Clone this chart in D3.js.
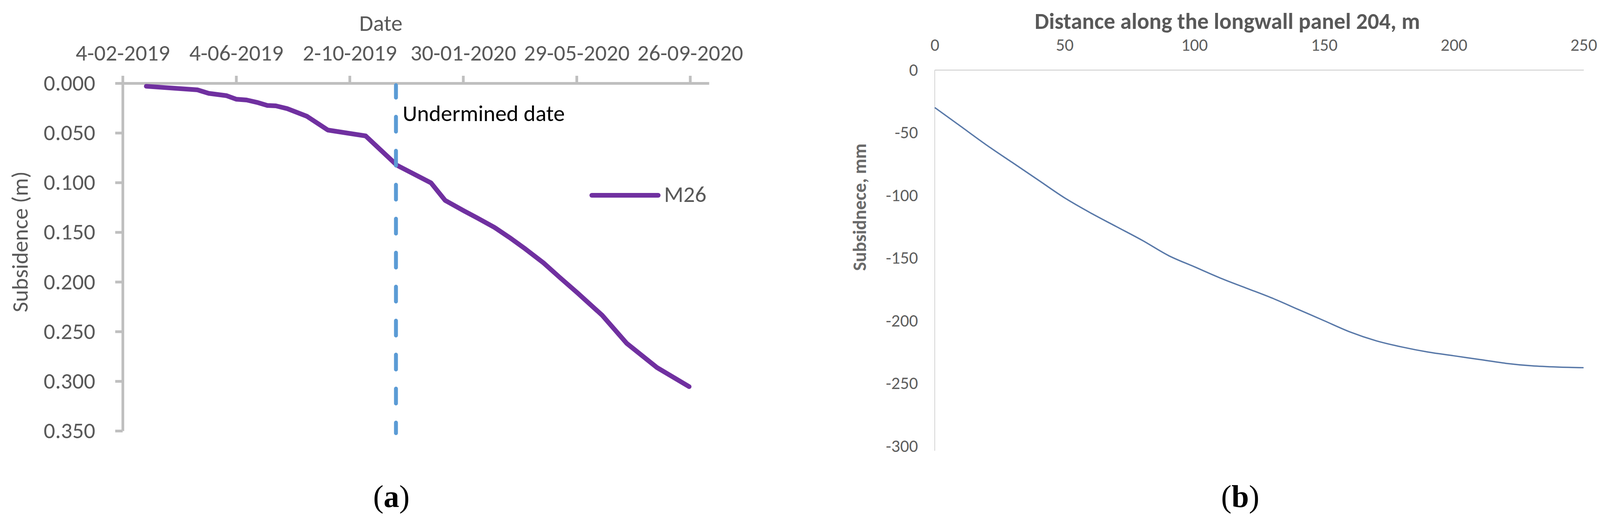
<!DOCTYPE html>
<html lang="en">
<head>
<meta charset="UTF-8">
<title>Subsidence</title>
<style>
  html, body { margin: 0; padding: 0; background: #fff; overflow: hidden; }
  svg { display: block; }
</style>
</head>
<body>
<script src="https://cdn.jsdelivr.net/npm/d3@7/dist/d3.min.js"></script>
<script>
// ---- panel (a): M26 subsidence over time ----
var dateTicks = ["4-02-2019", "4-06-2019", "2-10-2019", "30-01-2020", "29-05-2020", "26-09-2020"];
var subsTicks = [0, 0.05, 0.10, 0.15, 0.20, 0.25, 0.30, 0.35];
var m26Dates = ["1-03-2019", "24-04-2019", "6-05-2019", "25-05-2019", "4-06-2019", "15-06-2019",
  "26-06-2019", "7-07-2019", "16-07-2019", "28-07-2019", "18-08-2019", "9-09-2019", "19-10-2019",
  "21-11-2019", "27-12-2019", "11-01-2020", "31-01-2020", "14-02-2020", "3-03-2020", "19-03-2020",
  "5-04-2020", "24-04-2020", "11-05-2020", "30-05-2020", "25-06-2020", "21-07-2020", "22-08-2020",
  "25-09-2020"];
var m26Values = [0.0031, 0.0067, 0.0102, 0.0126, 0.0161, 0.0169, 0.0193, 0.0224, 0.0228, 0.0256,
  0.0334, 0.0472, 0.0531, 0.0826, 0.1003, 0.1180, 0.1286, 0.1357, 0.1451, 0.1553, 0.1670, 0.1809,
  0.1954, 0.2112, 0.2336, 0.2619, 0.2863, 0.3055];
var underminedDate = "20-11-2019";
var axisEndDate = "16-10-2020";

// ---- panel (b): subsidence along longwall panel 204 ----
var distTicks = [0, 50, 100, 150, 200, 250];
var mmTicks = [0, -50, -100, -150, -200, -250, -300];
var distance = [0, 10, 20, 30, 40, 50, 60, 70, 80, 90, 100, 110, 120, 130, 140, 150, 160, 170,
  180, 190, 200, 210, 220, 230, 240, 250];
var subsidence = [-30, -45, -60, -74, -88, -102, -114, -125, -136, -148, -157, -166, -174, -182,
  -191, -200, -209, -216, -221, -225, -228, -231, -234, -236, -237, -237.5];

var W = 4149, H = 1339;
var sans = "Carlito, Calibri, 'Liberation Sans', Arial, sans-serif";
var grey = "#595959";
var parse = d3.utcParse("%d-%m-%Y");

var svg = d3.select("body").append("svg")
  .attr("width", W).attr("height", H)
  .attr("viewBox", [0, 0, W, H]);
svg.append("rect").attr("width", W).attr("height", H).attr("fill", "#fff");

// ===== (a) =====
var xa = d3.scaleUtc()
  .domain([parse(dateTicks[0]), parse(axisEndDate)])
  .range([314, 1815]);
var ya = d3.scaleLinear().domain([0, 0.35]).range([213, 1103]);

var ga = svg.append("g");

var axTop = ga.append("g")
  .attr("transform", "translate(0," + ya(0) + ")")
  .call(d3.axisTop(xa)
    .tickValues(dateTicks.map(parse))
    .tickFormat(d3.utcFormat("%-d-%m-%Y"))
    .tickSize(19).tickSizeOuter(0).tickPadding(39));

var axLeft = ga.append("g")
  .attr("transform", "translate(" + xa.range()[0] + ",0)")
  .call(d3.axisLeft(ya)
    .tickValues(subsTicks)
    .tickFormat(d3.format(".3f"))
    .tickSize(19).tickSizeOuter(0).tickPadding(51));

[axTop, axLeft].forEach(function(g) {
  g.select(".domain").attr("stroke", "#BFBFBF").attr("stroke-width", 7);
  g.selectAll(".tick line").attr("stroke", "#BFBFBF").attr("stroke-width", 7);
  g.selectAll(".tick text").attr("fill", grey)
    .style("font-family", sans).style("font-size", "58px");
});

ga.append("text")
  .attr("x", 975).attr("y", 60).attr("dy", "0.32em")
  .attr("text-anchor", "middle")
  .style("font-family", sans).style("font-size", "58px").attr("fill", grey)
  .text("Date");

ga.append("text")
  .attr("transform", "translate(52,619) rotate(-90)")
  .attr("dy", "0.32em").attr("text-anchor", "middle")
  .style("font-family", sans).style("font-size", "58px").attr("fill", grey)
  .text("Subsidence (m)");

var m26 = m26Dates.map(function(d, i) { return { date: parse(d), v: m26Values[i] }; });

ga.append("path")
  .datum(m26)
  .attr("fill", "none")
  .attr("stroke", "#7030A0")
  .attr("stroke-width", 12)
  .attr("stroke-linejoin", "round")
  .attr("stroke-linecap", "round")
  .attr("d", d3.line().x(function(d) { return xa(d.date); }).y(function(d) { return ya(d.v); }));

var ux = xa(parse(underminedDate));
ga.append("line")
  .attr("x1", ux).attr("x2", ux)
  .attr("y1", ya(0) + 5).attr("y2", ya(0.35) + 6)
  .attr("stroke", "#5B9BD5").attr("stroke-width", 10)
  .attr("stroke-linecap", "round")
  .attr("stroke-dasharray", "38 49")
  .attr("stroke-dashoffset", 6);

ga.append("text")
  .attr("x", ux + 17).attr("y", 310)
  .style("font-family", sans).style("font-size", "58px").attr("fill", "#000")
  .text("Undermined date");

// legend
ga.append("line")
  .attr("x1", 1515).attr("x2", 1685).attr("y1", 500).attr("y2", 500)
  .attr("stroke", "#7030A0").attr("stroke-width", 12).attr("stroke-linecap", "round");
ga.append("text")
  .attr("x", 1700).attr("y", 498).attr("dy", "0.32em")
  .style("font-family", sans).style("font-size", "58px").attr("fill", grey)
  .text("M26");

// ===== (b) =====
var xb = d3.scaleLinear().domain([0, 250]).range([2393, 4054]);
var yb = d3.scaleLinear().domain([-300, 0]).range([1142, 179]);

var gb = svg.append("g");

var bTop = gb.append("g")
  .attr("transform", "translate(0," + yb(0) + ")")
  .call(d3.axisTop(xb).tickValues(distTicks).tickSize(0).tickSizeOuter(0).tickPadding(49));
var bLeft = gb.append("g")
  .attr("transform", "translate(" + xb(0) + ",0)")
  .call(d3.axisLeft(yb).tickValues(mmTicks).tickSize(0).tickSizeOuter(0).tickPadding(43)
    .tickFormat(function(d) { return String(d); }));

bTop.select(".domain").attr("stroke", "#D9D9D9").attr("stroke-width", 3);
bLeft.select(".domain").attr("stroke", "#D4D4D4").attr("stroke-width", 2)
  .attr("d", "M0," + yb(0) + "V" + (yb(-300) + 12));
[bTop, bLeft].forEach(function(g) {
  g.selectAll(".tick text").attr("fill", "#5f5f5f")
    .style("font-family", sans).style("font-size", "45px");
});

gb.append("text")
  .attr("x", 3142).attr("y", 55).attr("dy", "0.32em")
  .attr("text-anchor", "middle")
  .style("font-family", sans).style("font-size", "58px").style("font-weight", "bold")
  .attr("fill", grey)
  .text("Distance along the longwall panel 204, m");

gb.append("text")
  .attr("transform", "translate(" + (xb(0) - 191) + "," + yb(-109.5) + ") rotate(-90)")
  .attr("dy", "0.32em").attr("text-anchor", "middle")
  .style("font-family", sans).style("font-size", "48px").style("font-weight", "bold")
  .attr("fill", "#6a6a6a")
  .text("Subsidnece, mm");

gb.append("path")
  .datum(distance.map(function(d, i) { return [d, subsidence[i]]; }))
  .attr("fill", "none")
  .attr("stroke", "#5878A8")
  .attr("stroke-width", 3.5)
  .attr("d", d3.line().curve(d3.curveMonotoneX)
    .x(function(d) { return xb(d[0]); }).y(function(d) { return yb(d[1]); }));

// panel captions
var serif = "'Liberation Serif', 'Times New Roman', serif";
[["a", 1002], ["b", 3175]].forEach(function(c) {
  var t = svg.append("text")
    .attr("x", c[1]).attr("y", 1298).attr("text-anchor", "middle")
    .style("font-family", serif).style("font-size", "80px").attr("fill", "#000");
  t.append("tspan").text("(");
  t.append("tspan").style("font-weight", "bold").text(c[0]);
  t.append("tspan").text(")");
});
</script>
</body>
</html>
